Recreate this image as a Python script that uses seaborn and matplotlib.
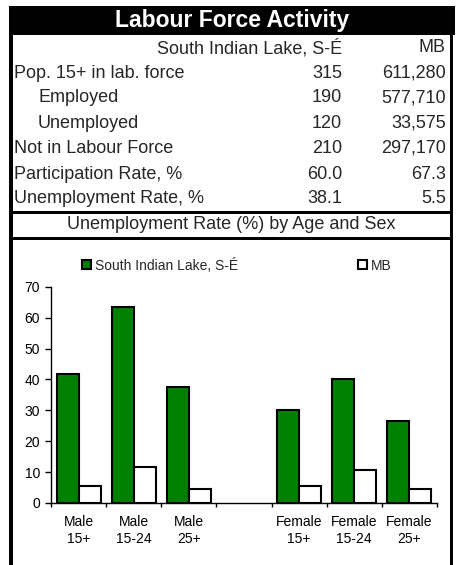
import numpy as np
import pandas as pd
import matplotlib
matplotlib.use("Agg")
import matplotlib.pyplot as plt
from matplotlib.patches import Rectangle, Patch
import seaborn as sns

# table data
row_labels = ["Pop. 15+ in lab. force", "Employed", "Unemployed",
              "Not in Labour Force", "Participation Rate, %", "Unemployment Rate, %"]
row_indent = [False, True, True, False, False, False]
area_vals = ["315", "190", "120", "210", "60.0", "38.1"]
mb_vals = ["611,280", "577,710", "33,575", "297,170", "67.3", "5.5"]
area_name = "South Indian Lake, S-É"
prov_name = "MB"

# chart data
categories = ["Male\n15+", "Male\n15-24", "Male\n25+",
              "Female\n15+", "Female\n15-24", "Female\n25+"]
order = ["Male\n15+", "Male\n15-24", "Male\n25+", " ",
         "Female\n15+", "Female\n15-24", "Female\n25+"]
area_rates = [41.8, 63.5, 37.6, 30.0, 40.0, 26.6]
mb_rates = [5.6, 11.7, 4.4, 5.4, 10.6, 4.4]

df = pd.DataFrame({
    "group": categories * 2,
    "region": [area_name] * len(categories) + [prov_name] * len(categories),
    "rate": area_rates + mb_rates,
})

sns.set_theme(style="white")
plt.rcParams["font.family"] = ["Liberation Sans", "DejaVu Sans"]

W, H = 458, 565
fig = plt.figure(figsize=(W / 100, H / 100), dpi=100)

def fx(x):
    return x / W

def fy(y):
    return 1 - y / H

def box(x0, y0, x1, y1, color="black"):
    fig.add_artist(Rectangle((fx(x0), fy(y1)), (x1 - x0) / W, (y1 - y0) / H,
                             transform=fig.transFigure, color=color, lw=0))

# frame pieces
box(9, 6, 455, 35)          # title band
box(9, 35, 12.5, H)         # left border
box(449.5, 35, 453, H)      # right border
box(9, 211, 453, 214)       # under table
box(9, 237, 453, 240)       # under subtitle

fig.text(fx(232), fy(20.5), "Labour Force Activity", color="white",
         fontsize=16.5, fontweight="bold", ha="center", va="center")

fig.text(fx(342), fy(48), area_name, fontsize=13, ha="right", va="center")
fig.text(fx(446), fy(48), prov_name, fontsize=13, ha="right", va="center")
row_y = [73, 98, 123, 148, 174, 199]
for lab, ind, a, m, y in zip(row_labels, row_indent, area_vals, mb_vals, row_y):
    fig.text(fx(38 if ind else 14), fy(y), lab, fontsize=13, ha="left", va="center")
    fig.text(fx(342), fy(y), a, fontsize=13, ha="right", va="center")
    fig.text(fx(446), fy(y), m, fontsize=13, ha="right", va="center")

fig.text(fx(231), fy(224.5), "Unemployment Rate (%) by Age and Sex",
         fontsize=13, ha="center", va="center")

# chart
ax = fig.add_axes([fx(51), fy(503), (437 - 51) / W, (503 - 286.7) / H])
colors = {area_name: "#008000", prov_name: "white"}
sns.barplot(data=df, x="group", y="rate", hue="region", order=order,
            hue_order=[area_name, prov_name], palette=colors,
            edgecolor="black", linewidth=1.5, saturation=1, legend=False, ax=ax)

ax.set_xlim(-0.5, 6.5)
ax.set_ylim(0, 70)
ax.set_yticks(np.arange(0, 71, 10))
ax.set_xticks(np.arange(-0.5, 7, 1))
ax.set_xticklabels([])
ax.set_xticks(np.arange(7), labels=order, minor=True)
ax.tick_params(axis="x", which="major", direction="out", length=3, width=1,
               color="black", bottom=True)
ax.tick_params(axis="x", which="minor", length=0, pad=9, labelsize=10,
               labelcolor="black")
ax.tick_params(axis="y", direction="out", length=4, width=1, color="black",
               left=True, pad=4, labelsize=10, labelcolor="black")
ax.set_xlabel("")
ax.set_ylabel("")
for s in ["top", "right"]:
    ax.spines[s].set_visible(False)
for s in ["left", "bottom"]:
    ax.spines[s].set_color("black")
    ax.spines[s].set_linewidth(1)
ax.set_facecolor("white")

handles = [Patch(facecolor="#008000", edgecolor="black", lw=1.5, label=area_name),
           Patch(facecolor="white", edgecolor="black", lw=1.5, label=prov_name)]
fig.legend(handles=handles, ncol=2, loc="center left",
           bbox_to_anchor=(fx(82), fy(265)), frameon=False, fontsize=10,
           handlelength=0.65, handleheight=0.65, handletextpad=0.3,
           columnspacing=8.6, borderpad=0, borderaxespad=0)

fig.savefig("out.png", dpi=100)
